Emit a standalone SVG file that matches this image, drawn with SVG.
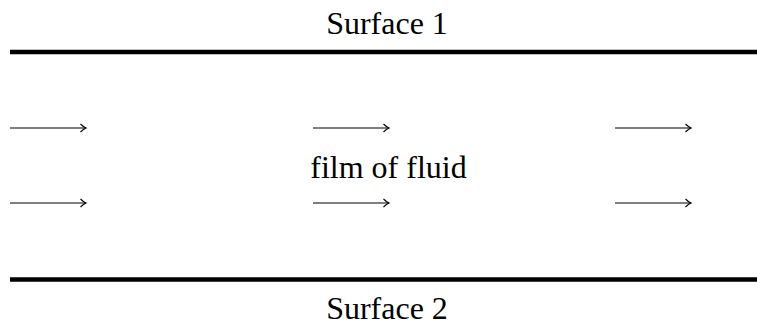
<svg xmlns="http://www.w3.org/2000/svg" width="757" height="324" viewBox="0 0 757 324">
<style>
text{font-family:"Liberation Serif","DejaVu Serif",serif;font-size:32px;fill:#000;text-anchor:middle}
.surf{stroke:#000;stroke-width:4.5}
.arr{stroke:#000;stroke-width:1.2;fill:none}
</style>
<defs>
<marker id="ah" markerWidth="10" markerHeight="10" refX="7" refY="5" orient="auto" markerUnits="userSpaceOnUse">
<path d="M1.5,1 Q4.5,4 7,5 Q4.5,6 1.5,9" fill="none" stroke="#000" stroke-width="1.1"/>
</marker>
</defs>
<g id="surface1">
<line class="surf" x1="10" y1="52" x2="757" y2="52"/>
<text x="387" y="33.5">Surface 1</text>
</g>
<g id="surface2">
<line class="surf" x1="10" y1="279.5" x2="757" y2="279.5"/>
<text x="387" y="318.5">Surface 2</text>
</g>
<g id="fluid">
<text x="388.5" y="177.5">film of fluid</text>
</g>
<g id="connectors">
<line class="arr" x1="10" y1="128" x2="86" y2="128" marker-end="url(#ah)"/>
<line class="arr" x1="10" y1="203" x2="86" y2="203" marker-end="url(#ah)"/>
<line class="arr" x1="313" y1="128" x2="389" y2="128" marker-end="url(#ah)"/>
<line class="arr" x1="313" y1="203" x2="389" y2="203" marker-end="url(#ah)"/>
<line class="arr" x1="615" y1="128" x2="691" y2="128" marker-end="url(#ah)"/>
<line class="arr" x1="615" y1="203" x2="691" y2="203" marker-end="url(#ah)"/>
</g>
</svg>
